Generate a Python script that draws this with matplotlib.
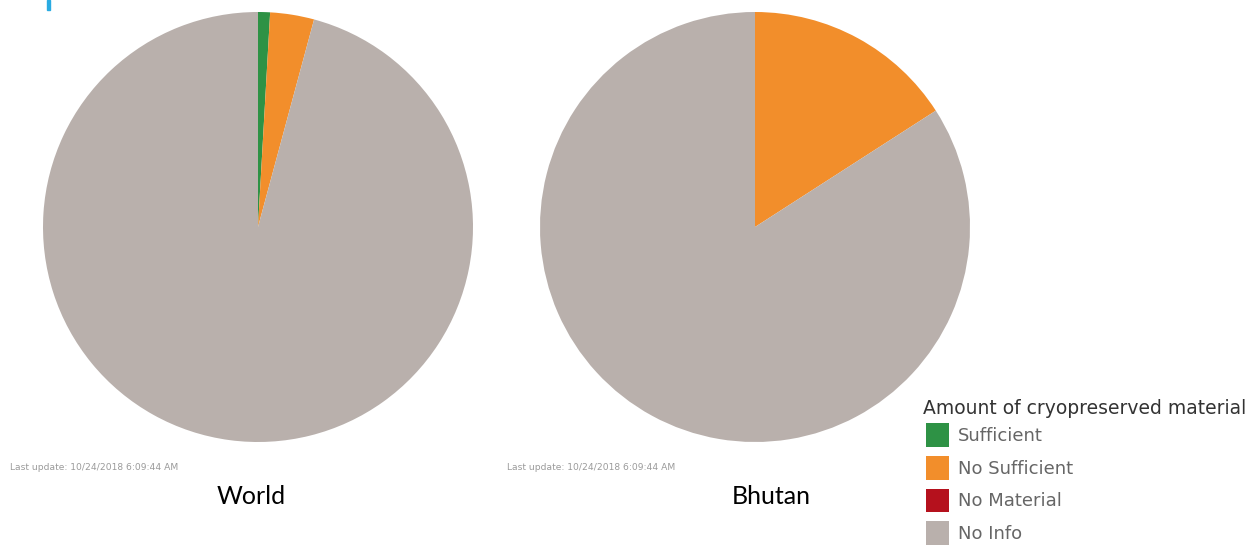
import matplotlib
matplotlib.use("Agg")
import matplotlib.pyplot as plt
from matplotlib.patches import Patch

# share of accessions by amount of cryopreserved material (%)
categories = ['Sufficient', 'No Sufficient', 'No Material', 'No Info']
colors = ['#2e9245', '#f28e2b', '#b5111d', '#b9b0ac']
world = [0.9, 3.3, 0.0, 95.8]
bhutan = [0.0, 15.9, 0.0, 84.1]
titles = ['World', 'Bhutan']
stamp = 'Last update: 10/24/2018 6:09:44 AM'
legend_title = 'Amount of cryopreserved material'

W, H = 1255, 546
fig = plt.figure(figsize=(W / 100, H / 100), dpi=100)

def px_axes(x0, y0, w, h):
    # pixel box (top-left origin) -> figure axes
    return fig.add_axes([x0 / W, 1 - (y0 + h) / H, w / W, h / H])

for i, (vals, name) in enumerate(zip([world, bhutan], titles)):
    ax = px_axes(43 + i * 497, 12, 430, 430)
    ax.pie(vals, colors=colors, startangle=90, counterclock=False,
           radius=1, wedgeprops=dict(linewidth=0))
    ax.set_xlim(-1, 1)
    ax.set_ylim(-1, 1)
    ax.set_aspect('equal')
    ax.axis('off')
    fig.text((10 + i * 497) / W, 1 - 468 / H, stamp, fontsize=6.6,
             color='#9a9a9a', va='center', ha='left')
    fig.text((251 + i * 520) / W, 1 - 497 / H, name, fontsize=18,
             color='black', va='center', ha='center', family='Lato')

# small blue marker at the top-left edge
fig.patches.append(plt.Rectangle((47 / W, 1 - 10 / H), 3 / W, 10 / H,
                                 transform=fig.transFigure, color='#29abe2'))

fig.text(923 / W, 1 - 414 / H, legend_title, fontsize=13.5, color='#333333',
         va='baseline', ha='left')
handles = [Patch(facecolor=c, edgecolor='none') for c in colors]
leg = fig.legend(handles, categories, loc='upper left',
                 bbox_to_anchor=(926 / W, 1 - 423 / H),
                 frameon=False, fontsize=13,
                 handlelength=1.3, handleheight=1.65, labelspacing=0.5,
                 handletextpad=0.45, borderaxespad=0, borderpad=0)
for t in leg.get_texts():
    t.set_color('#666666')

fig.savefig('out.png', dpi=100, facecolor='white')
